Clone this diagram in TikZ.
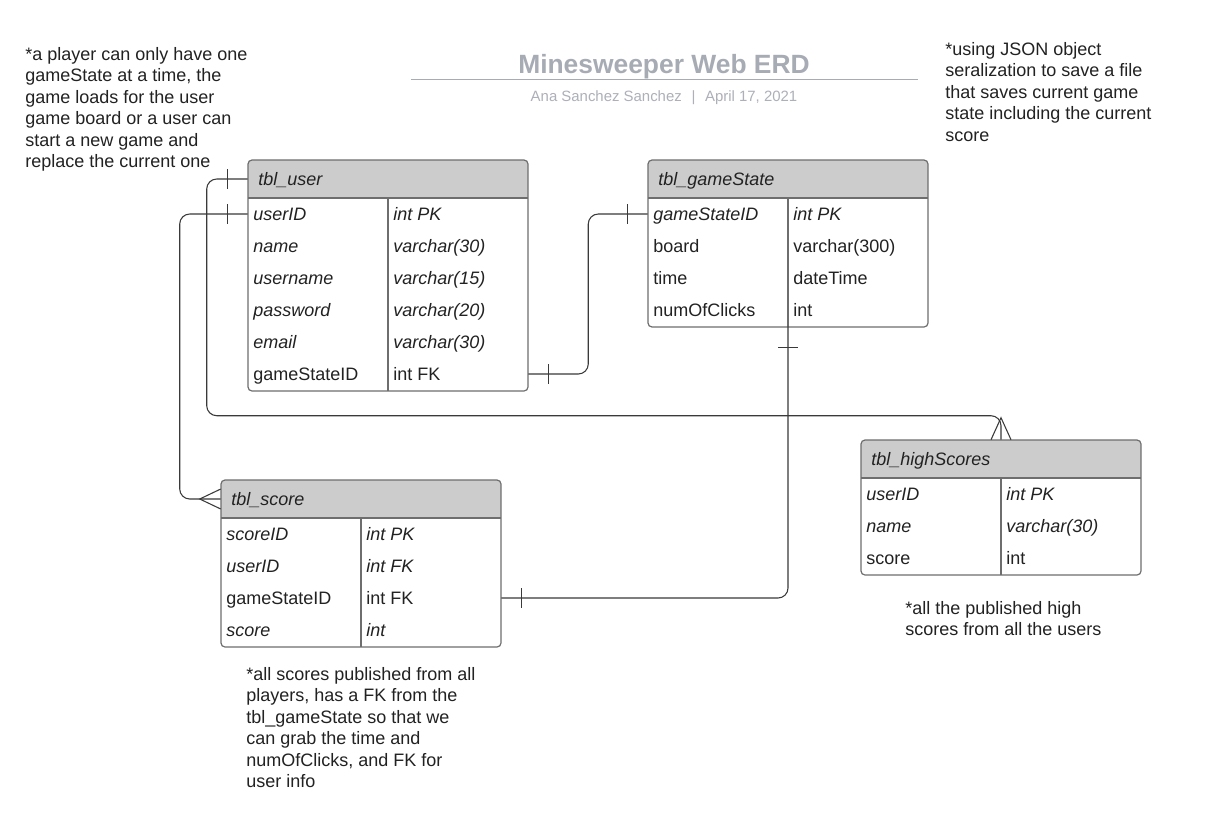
\documentclass[tikz,border=0pt]{standalone}
\usepackage{fontspec}
\setmainfont{Liberation Sans}
\usetikzlibrary{calc}
\definecolor{hdrgray}{HTML}{CCCCCC}
\definecolor{tblline}{HTML}{6E6E6E}
\definecolor{connline}{HTML}{3A3A3A}
\definecolor{titlegray}{HTML}{A7ABB4}
\definecolor{subgray}{HTML}{ADB0B8}
\definecolor{txt}{HTML}{222222}
\newcommand\ertable[5]{%
  \begin{scope}
    \clip[rounded corners=3] (#2,#3) rectangle (#2+280,#4);
    \fill[hdrgray] (#2,#3) rectangle (#2+280,#3+38);
  \end{scope}
  \node[hdrbox] (#1) at (#2+140,#3+19) {};
  \node[cell] (#1-t) at (#2+10,#3+20.5) {\itshape #5};
  \draw[tbl, rounded corners=3] (#2,#3) rectangle (#2+280,#4);
  \draw[tbl] (#2,#3+38) -- (#2+280,#3+38);
  \draw[tbl] (#2+140,#3+38) -- (#2+140,#4);
}
\newcommand\errow[6]{%
  \node[rowbox] (#1) at (#2+140,#3+16) {};
  \node[cell] (#1-a) at (#2+5,#3+17.5) {#6#4};
  \node[cell] (#1-b) at (#2+145,#3+17.5) {#6#5};
}
\begin{document}
\begin{tikzpicture}[x=0.75pt,y=-0.75pt,
  every node/.style={font=\fontsize{13.5}{16.1}\selectfont, text=txt, inner sep=0pt},
  rowbox/.style={minimum width=210pt, minimum height=24pt},
  hdrbox/.style={minimum width=210pt, minimum height=28.5pt},
  cell/.style={anchor=west, text height=9.8pt, text depth=2.9pt},
  tbl/.style={draw=tblline, line width=0.9pt},
  conn/.style={draw=connline, line width=0.8pt, rounded corners=7.5pt},
  tickline/.style={draw=connline, line width=0.8pt},
  note/.style={align=left, anchor=north west, text=txt}]
\useasboundingbox (0,0) rectangle (1216,814);
\fill[white] (0,0) rectangle (1216,814);

% title
\node[font=\fontsize{19.8}{23}\selectfont\bfseries, text=titlegray, anchor=base] (title) at (664,73) {Minesweeper Web ERD};
\draw[titlegray, line width=1.3pt] (411,79.5) -- (918,79.5);
\node[font=\fontsize{11.2}{13}\selectfont, text=subgray, anchor=base] (subtitle) at (664,101) {Ana Sanchez Sanchez\hspace{0.65em}|\hspace{0.65em}April 17, 2021};

% notes
\node[note] (note1) at (25,47) {*a player can only have one\\gameState at a time, the\\game loads for the user\\game board or a user can\\start a new game and\\replace the current one};
\node[note] (note2) at (945,42) {*using JSON object\\seralization to save a file\\that saves current game\\state including the current\\score};
\node[note] (note3) at (246,667) {*all scores published from all\\players, has a FK from the\\tbl\_gameState so that we\\can grab the time and\\numOfClicks, and FK for\\user info};
\node[note] (note4) at (905,601) {*all the published high\\scores from all the users};

% tables
\ertable{user}{248}{160}{391}{tbl\_user}
\errow{user-r1}{248}{198}{userID}{int PK}{\itshape}
\errow{user-r2}{248}{230}{name}{varchar(30)}{\itshape}
\errow{user-r3}{248}{262}{username}{varchar(15)}{\itshape}
\errow{user-r4}{248}{294}{password}{varchar(20)}{\itshape}
\errow{user-r5}{248}{326}{email}{varchar(30)}{\itshape}
\errow{user-r6}{248}{358}{gameStateID}{int FK}{\upshape}

\ertable{gs}{648}{160}{327}{tbl\_gameState}
\errow{gs-r1}{648}{198}{gameStateID}{int PK}{\itshape}
\errow{gs-r2}{648}{230}{board}{varchar(300)}{\upshape}
\errow{gs-r3}{648}{262}{time}{dateTime}{\upshape}
\errow{gs-r4}{648}{294}{numOfClicks}{int}{\upshape}

\ertable{score}{221}{480}{647}{tbl\_score}
\errow{sc-r1}{221}{518}{scoreID}{int PK}{\itshape}
\errow{sc-r2}{221}{550}{userID}{int FK}{\itshape}
\errow{sc-r3}{221}{582}{gameStateID}{int FK}{\upshape}
\errow{sc-r4}{221}{614}{score}{int}{\itshape}

\ertable{hs}{861}{440}{575}{tbl\_highScores}
\errow{hs-r1}{861}{478}{userID}{int PK}{\itshape}
\errow{hs-r2}{861}{510}{name}{varchar(30)}{\itshape}
\errow{hs-r3}{861}{542}{score}{int}{\upshape}

% connectors
% user -> highScores (one to many)
\draw[conn] (user.west) -- ++(-41,0) |- ($(hs.north)+(0,-24)$) -- (hs.north);
\draw[tickline] ($(user.west)+(-20,-10)$) -- ($(user.west)+(-20,10)$);
\draw[tickline] ($(hs.north)+(-10,0)$) -- ($(hs.north)+(0,-22)$) -- ($(hs.north)+(10,0)$);

% user.userID -> score (one to many)
\draw[conn] (user-r1.west) -- ++(-68,0) |- (score.west);
\draw[tickline] ($(user-r1.west)+(-20,-10)$) -- ($(user-r1.west)+(-20,10)$);
\draw[tickline] ($(score.west)+(0,-10)$) -- ($(score.west)+(-21,0)$) -- ($(score.west)+(0,10)$);

% user.gameStateID -> gameState.gameStateID (one to one)
\draw[conn] (user-r6.east) -- ++(60,0) |- (gs-r1.west);
\draw[tickline] ($(user-r6.east)+(20,-10)$) -- ($(user-r6.east)+(20,10)$);
\draw[tickline] ($(gs-r1.west)+(-20,-10)$) -- ($(gs-r1.west)+(-20,10)$);

% gameState -> score.gameStateID (one to one)
\draw[conn] (gs-r4.south) |- (sc-r3.east);
\draw[tickline] ($(gs-r4.south)+(-10,21)$) -- ($(gs-r4.south)+(10,21)$);
\draw[tickline] ($(sc-r3.east)+(20,-10)$) -- ($(sc-r3.east)+(20,10)$);
\end{tikzpicture}
\end{document}
